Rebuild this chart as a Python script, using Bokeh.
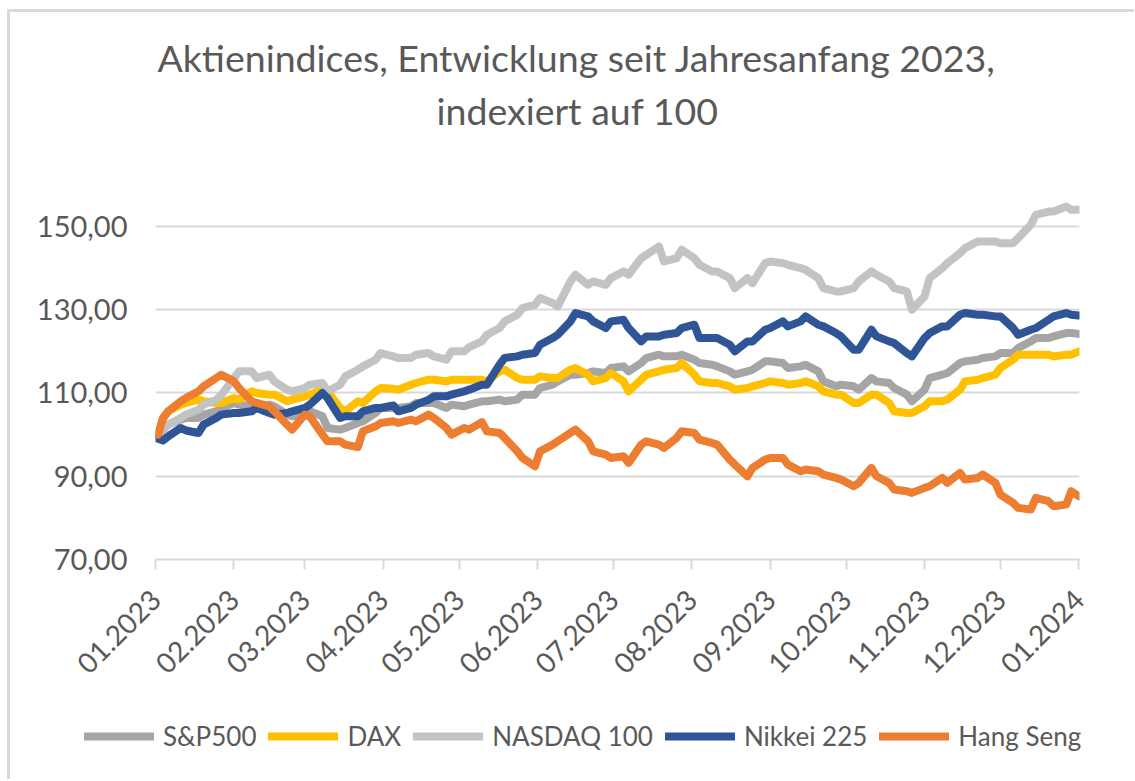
import pandas as pd
from bokeh.plotting import figure
from bokeh.layouts import column
from bokeh.models import (FixedTicker, DatetimeTickFormatter, CustomJSTickFormatter,
                          Legend, LegendItem, Title, Range1d)
from bokeh.embed import file_html
from bokeh.resources import INLINE
from math import pi

title_line1 = "Aktienindices, Entwicklung seit  Jahresanfang 2023,"
title_line2 = "indexiert auf 100"

# one line per month (Wednesdays and Fridays)
dates = ["2023-01-02", "2023-01-04", "2023-01-06", "2023-01-11", "2023-01-13", "2023-01-18", "2023-01-20", "2023-01-25", "2023-01-27",
         "2023-02-01", "2023-02-03", "2023-02-08", "2023-02-10", "2023-02-15", "2023-02-17", "2023-02-22", "2023-02-24",
         "2023-03-01", "2023-03-03", "2023-03-08", "2023-03-10", "2023-03-15", "2023-03-17", "2023-03-22", "2023-03-24", "2023-03-29", "2023-03-31",
         "2023-04-05", "2023-04-07", "2023-04-12", "2023-04-14", "2023-04-19", "2023-04-21", "2023-04-26", "2023-04-28",
         "2023-05-03", "2023-05-05", "2023-05-10", "2023-05-12", "2023-05-17", "2023-05-19", "2023-05-24", "2023-05-26", "2023-05-31",
         "2023-06-02", "2023-06-07", "2023-06-09", "2023-06-14", "2023-06-16", "2023-06-21", "2023-06-23", "2023-06-28", "2023-06-30",
         "2023-07-05", "2023-07-07", "2023-07-12", "2023-07-14", "2023-07-19", "2023-07-21", "2023-07-26", "2023-07-28",
         "2023-08-02", "2023-08-04", "2023-08-09", "2023-08-11", "2023-08-16", "2023-08-18", "2023-08-23", "2023-08-25", "2023-08-30",
         "2023-09-01", "2023-09-06", "2023-09-08", "2023-09-13", "2023-09-15", "2023-09-20", "2023-09-22", "2023-09-27", "2023-09-29",
         "2023-10-04", "2023-10-06", "2023-10-11", "2023-10-13", "2023-10-18", "2023-10-20", "2023-10-25", "2023-10-27",
         "2023-11-01", "2023-11-03", "2023-11-08", "2023-11-10", "2023-11-15", "2023-11-17", "2023-11-22", "2023-11-24", "2023-11-29",
         "2023-12-01", "2023-12-06", "2023-12-08", "2023-12-13", "2023-12-15", "2023-12-20", "2023-12-22", "2023-12-27", "2023-12-29",
         "2024-01-01"]

sp500 = [100, 101.2, 102.4, 103.6, 104, 104.0, 104.8, 105.6, 106.4,
         107.6, 107.2, 106.8, 106.4, 107.2, 106.8, 104.8, 104.4,
         104.8, 105.6, 104.4, 101.6, 101.2, 101.6, 102.8, 103.2, 105.2, 106.4,
         106.4, 106.4, 106.8, 107.6, 107.6, 107.6, 106.4, 107.2,
         106.8, 107.2, 108.0, 108, 108.4, 108, 108.4, 109.6, 109.6,
         111.2, 112.0, 112.8, 114.4, 114.4, 114.8, 115.2, 114.8, 116,
         116.4, 115.2, 117.2, 118.4, 119.2, 118.8, 118.8, 119.2,
         118.0, 117.2, 116.8, 116.4, 115.2, 114.4, 115.2, 115.6, 117.6,
         117.6, 117.2, 116, 116.4, 116.8, 115.2, 112.8, 111.6, 112,
         111.6, 110.8, 113.6, 112.8, 112.4, 111.2, 109.6, 108,
         110.8, 113.6, 114.4, 114.8, 117.2, 117.6, 118.0, 118.4, 118.8,
         119.6, 119.6, 120.8, 122.4, 123.2, 123.2, 123.6, 124.4, 124.4,
         124.2]

dax = [100, 104.0, 105.6, 107.2, 107.6, 108.4, 108, 107.6, 107.6,
       108.8, 108.4, 110.4, 110, 109.6, 109.6, 108.0, 108.4,
       109.2, 109.6, 110.8, 110.4, 106.4, 105.6, 108.0, 107.6, 110.4, 111.2,
       111.0, 110.8, 112.0, 112.4, 113.2, 113.2, 112.8, 113.2,
       113.2, 113.2, 113.2, 112.8, 115.2, 115.6, 113.6, 113.2, 113.2,
       114, 113.6, 113.6, 115.6, 116, 114.4, 112.8, 113.6, 114.8,
       112.8, 110.4, 113.2, 114.4, 115.2, 115.6, 116.0, 117.2,
       114.4, 112.8, 112.4, 112.4, 111.6, 110.8, 111.2, 111.6, 112.4,
       112.8, 112.4, 112, 112.4, 112.8, 111.6, 110.4, 109.6, 109.6,
       107.6, 107.6, 109.6, 109.6, 107.6, 105.6, 105.2, 105.2,
       106.8, 108, 108.0, 108.4, 110.8, 112.8, 113.2, 113.6, 114.4,
       116, 118.0, 119.2, 119.2, 119.2, 119.2, 118.8, 119.2, 119.2,
       120]

nasdaq100 = [100, 101.6, 102.4, 104.0, 104.8, 106.0, 107.2, 108.4, 109.5,
             113.6, 115.2, 115.2, 113.6, 114.4, 112.8, 110.8, 110.4,
             111.2, 112, 112.4, 110.4, 112.0, 114, 115.6, 116.4, 118.0, 119.6,
             118.8, 118.4, 118.4, 119.2, 119.6, 118.8, 118.0, 120,
             120.0, 121, 122.4, 124, 125.6, 127.2, 128.8, 130.4, 131.2,
             132.8, 131.6, 130.8, 136.8, 138.4, 136.0, 136.8, 136.0, 137.6,
             139.2, 138.4, 142.4, 143.2, 145.2, 141.6, 142.4, 144.4,
             142.4, 140.8, 139.2, 139.2, 137.6, 135.2, 137.6, 136.4, 141.2,
             141.6, 141.2, 140.8, 140.0, 139.6, 137.6, 135.2, 134.4, 134.4,
             135.2, 136.8, 139.2, 138.4, 136.8, 135.2, 134.4, 130,
             133.2, 137.6, 140.0, 141.2, 143.6, 144.8, 146.4, 146.4, 146.4,
             146, 146.0, 147.2, 150.4, 152.8, 153.6, 153.6, 154.8, 154,
             154]

nikkei225 = [99, 98.6, 99.6, 101.6, 101, 100.4, 102.4, 104.0, 104.8,
             105.2, 105.2, 105.6, 106.4, 105.2, 104.8, 105.2, 105.6,
             106.4, 107.2, 110.0, 108.8, 104.0, 104.4, 104.4, 105.6, 106.4, 106.4,
             107.0, 105.6, 106.4, 107.2, 108.4, 109.2, 109.2, 109.6,
             110.4, 110.8, 112, 112, 116.8, 118.4, 118.8, 119.2, 119.6,
             121.6, 123.2, 124, 127.2, 129.2, 128.4, 127.2, 125.6, 127.2,
             127.6, 125.6, 122.4, 123.6, 123.6, 124, 124.4, 125.6,
             126.4, 123.2, 123.2, 123.2, 121.6, 120, 122.4, 122.4, 125.2,
             125.6, 127.2, 126, 127.2, 128.4, 126.4, 126, 124.4, 123.6,
             120.4, 120.4, 125.2, 123.6, 122.4, 122, 119.6, 118.8,
             123.2, 124.4, 126.0, 126, 128.8, 129.2, 128.8, 128.8, 128.4,
             128.4, 125.6, 124, 125.2, 125.6, 127.6, 128.4, 129.2, 128.8,
             128.6]

hangseng = [100, 104.0, 105.6, 108.0, 108.8, 110.4, 111.6, 113.6, 114.4,
            112.8, 111.2, 108.0, 107.6, 106.8, 105.6, 102.4, 101.2,
            104.8, 104.4, 100.0, 98.4, 98.4, 97.6, 97.0, 100.8, 102.0, 102.8,
            103.2, 102.8, 103.6, 103.2, 104.8, 104, 101.6, 100,
            101.6, 101.2, 103.0, 100.8, 100.4, 99.2, 96.0, 94.4, 92.4,
            96, 97.6, 98.4, 100.4, 101.2, 98.4, 96, 95.2, 94.4,
            94.8, 93.2, 97.6, 98.4, 97.6, 96.8, 99.2, 100.8,
            100.4, 98.8, 98.0, 97.6, 94.0, 92.8, 90.0, 92, 94.0,
            94.4, 94.4, 92.8, 91.2, 91.6, 91.2, 90.4, 89.6, 89.2,
            87.6, 88.4, 92.0, 90, 88.4, 86.8, 86.4, 86,
            87.2, 87.6, 89.6, 88.4, 90.8, 89.2, 89.6, 90.4, 88.4,
            85.6, 83.6, 82.4, 82.0, 84.8, 84.0, 82.8, 83.2, 86.4,
            85.2]

series_names = ["S&P500", "DAX", "NASDAQ 100", "Nikkei 225", "Hang Seng"]
series_values = [sp500, dax, nasdaq100, nikkei225, hangseng]
series_colors = ["#A5A5A5", "#FFC000", "#C3C3C3", "#2F5597", "#ED7D31"]

month_ticks = ["2023-01-01", "2023-02-01", "2023-03-01", "2023-04-01", "2023-05-01",
               "2023-06-01", "2023-07-01", "2023-08-01", "2023-09-01", "2023-10-01",
               "2023-11-01", "2023-12-01", "2024-01-01"]
y_ticks = [70, 90, 110, 130, 150]

x = pd.to_datetime(dates)
tick_ms = [pd.Timestamp(d).value / 1e6 for d in month_ticks]
x_start, x_end = tick_ms[0], tick_ms[-1] + 6 * 3600 * 1000

FONT = "Lato"
TXT = "#595959"
GRID = "#D9D9D9"

# ---------------- main chart ----------------
p = figure(width=1117, height=688, output_backend="svg", toolbar_location=None,
           x_axis_type="datetime",
           x_range=Range1d(x_start, x_end), y_range=Range1d(70, 172.1),
           min_border_left=145, min_border_right=48, min_border_top=122,
           min_border_bottom=141)
p.outline_line_color = None
p.background_fill_color = "white"
p.border_fill_color = "white"

for vals, col in zip(series_values, series_colors):
    p.line(x, vals, line_color=col, line_width=8, line_join="round", line_cap="round")

p.xaxis.ticker = FixedTicker(ticks=tick_ms)
fmt = "%m.%Y"
p.xaxis.formatter = DatetimeTickFormatter(milliseconds=fmt, seconds=fmt, minsec=fmt, minutes=fmt,
                                          hourmin=fmt, hours=fmt, days=fmt, months=fmt, years=fmt)
p.xaxis.major_label_orientation = pi / 4
p.xaxis.axis_line_color = GRID
p.xaxis.axis_line_width = 2
p.xaxis.major_tick_line_color = GRID
p.xaxis.major_tick_line_width = 2
p.xaxis.major_tick_out = 10
p.xaxis.major_tick_in = 0
p.xaxis.minor_tick_line_color = None
p.xaxis.major_label_text_font = FONT
p.xaxis.major_label_text_font_size = "28px"
p.xaxis.major_label_text_color = TXT
p.xaxis.major_label_standoff = 25

p.yaxis.ticker = FixedTicker(ticks=y_ticks)
p.yaxis.formatter = CustomJSTickFormatter(code="return tick.toFixed(2).replace('.', ',');")
p.yaxis.axis_line_color = None
p.yaxis.major_tick_line_color = None
p.yaxis.minor_tick_line_color = None
p.yaxis.major_label_text_font = FONT
p.yaxis.major_label_text_font_size = "29px"
p.yaxis.major_label_text_color = TXT
p.yaxis.major_label_standoff = 22

p.xgrid.grid_line_color = None
p.ygrid.grid_line_color = GRID
p.ygrid.grid_line_width = 2

t2 = Title(text=title_line2, align="left", offset=281, text_font=FONT, text_font_size="37.5px",
           text_font_style="normal", text_color=TXT, standoff=3)
t1 = Title(text=title_line1, align="left", offset=2, text_font=FONT, text_font_size="37.5px",
           text_font_style="normal", text_color=TXT, standoff=10)
p.add_layout(t2, "above")
p.add_layout(t1, "above")

# ---------------- legend strip below the chart ----------------
lg = figure(width=1117, height=73, output_backend="svg", toolbar_location=None,
            x_axis_location=None, y_axis_location=None,
            x_range=Range1d(x_start, x_end), y_range=Range1d(0, 1),
            min_border_left=0, min_border_right=0, min_border_top=0, min_border_bottom=0)
lg.outline_line_color = None
lg.xgrid.grid_line_color = None
lg.ygrid.grid_line_color = None
lg.border_fill_color = "white"
lg.background_fill_color = "white"

legend_x = 74 - 145
try:
    p.frame_align = False
    lg.frame_align = False
    legend_x = 74
except Exception:
    pass

legend_renderers = []
for vals, col in zip(series_values, series_colors):
    # same series, lying outside this strip's y range: only their legend swatches show
    r = lg.line(x, vals, line_color=col, line_width=8, line_cap="round")
    legend_renderers.append(r)

legend = Legend(items=[LegendItem(label=n, renderers=[r])
                       for n, r in zip(series_names, legend_renderers)],
                orientation="horizontal", location=(legend_x, 21),
                label_text_font=FONT, label_text_font_size="26px", label_text_color=TXT,
                glyph_width=70, glyph_height=30, label_height=30, label_standoff=9,
                spacing=12, padding=0, margin=0, border_line_color=None,
                background_fill_alpha=0)
lg.add_layout(legend, "center")

# chart-area frame: light grey rule on the left and top, as in the reference
layout = column(p, lg, spacing=0,
                styles={"margin-left": "7px", "margin-top": "9px",
                        "border-left": "3px solid #D9D9D9", "border-top": "3px solid #D9D9D9",
                        "padding-right": "7px", "padding-bottom": "6px"})
open("out.html", "w").write(file_html(layout, INLINE))
